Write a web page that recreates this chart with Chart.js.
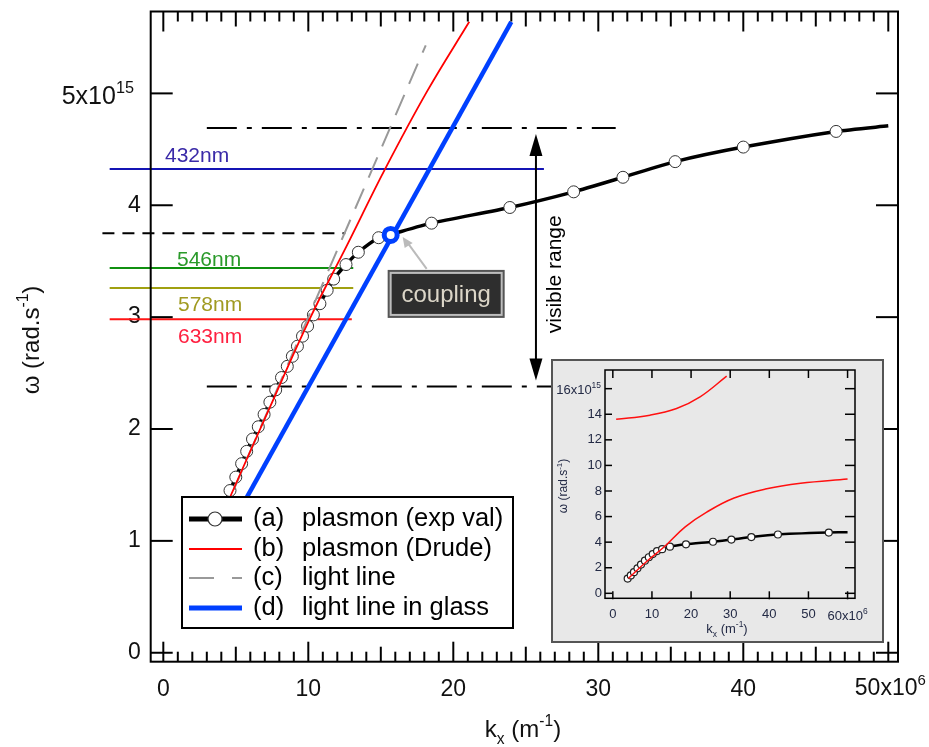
<!DOCTYPE html>
<html>
<head>
<meta charset="utf-8">
<script src="https://cdn.jsdelivr.net/npm/chart.js@4.4.0/dist/chart.umd.min.js"></script>
<style>
  body { margin: 0; background: #fff; }
  #wrap { position: relative; width: 929px; height: 747px; }
  #inset { position: absolute; left: 551px; top: 359px; }
</style>
</head>
<body>
<div id="wrap">
  <canvas id="main" width="929" height="747"></canvas>
  <canvas id="inset" width="333" height="284"></canvas>
</div>
<script>
// ---- data (k in 1e6 m^-1, omega in 1e15 rad/s) ----
const xTicks = [0, 10, 20, 30, 40, 50];
const yTicks = [0, 1, 2, 3, 4, 5];

// (a) plasmon, experimental values (last point = end of the line, no marker)
const kExp = [4.25, 4.6, 5.0, 5.4, 5.75, 6.15, 6.55, 6.95, 7.35, 7.75, 8.15, 8.55, 8.9, 9.25, 9.6, 9.95,
  10.35, 10.8, 11.3, 11.75, 12.6, 13.45, 14.85, 15.7, 18.5, 23.9, 28.3, 31.7, 35.3, 40.0, 46.4, 50.0];
const wExp = [1.34, 1.45, 1.57, 1.69, 1.80, 1.91, 2.02, 2.13, 2.24, 2.35, 2.46, 2.56, 2.65, 2.74, 2.83, 2.92,
  3.02, 3.12, 3.24, 3.34, 3.47, 3.58, 3.71, 3.74, 3.84, 3.98, 4.12, 4.25, 4.39, 4.52, 4.66, 4.71];

// (b) plasmon, Drude
const kDrude = [4.0, 4.6, 7.3, 10.1, 12.7, 15.3, 18.2, 21.1];
const wDrude = [1.2, 1.39, 2.18, 2.985, 3.65, 4.325, 5.02, 5.64];

// (c) light line
const kLight = [3.0, 18.1];
const wLight = [0.9, 5.43];

// (d) light line in glass
const kGlass = [4.3, 24.0];
const wGlass = [1.05, 5.64];

// coupling point
const kCoupling = [15.68];
const wCoupling = [3.735];

// laser lines
const lambdaNames = ['432nm', '546nm', '578nm', '633nm'];
const lambdaOmega = [4.325, 3.44, 3.26, 2.98];
const lambdaFrom = [-3.7, -3.7, -3.7, -3.7];
const lambdaTo = [26.25, 13.1, 13.1, 13.0];

// visible range limits (dash-dot) and the dashed level
const visibleOmega = [4.69, 2.38];
const visibleFrom = 3.0, visibleTo = 31.2;
const dashedOmega = 3.75;
const dashedFrom = -4.2, dashedTo = 12.55;

// inset
const insetXTicks = [0, 10, 20, 30, 40, 50, 60];
const insetYTicks = [0, 2, 4, 6, 8, 10, 12, 14, 16];
const kInUpper = [0.85, 9.5, 16.3, 22.3, 29.1];
const wInUpper = [13.6, 13.93, 14.45, 15.36, 16.98];
const kInLower = [4.0, 8.5, 13.0, 18.5, 24.0, 31.0, 39.0, 48.0, 60.0];
const wInLower = [1.17, 2.45, 3.6, 5.2, 6.35, 7.45, 8.15, 8.6, 8.93];
const kInExp = [3.8, 4.6, 5.4, 6.3, 7.2, 8.2, 9.2, 10.2, 11.3, 12.6, 14.6, 18.7, 25.6, 30.3, 35.4, 42.2, 55.2, 60.0];
const wInExp = [1.15, 1.4, 1.65, 1.95, 2.25, 2.55, 2.82, 3.07, 3.3, 3.45, 3.65, 3.83, 4.03, 4.2, 4.4, 4.6, 4.75, 4.78];

// ---- helpers ----
const FONT = '"Liberation Sans", Arial, Helvetica, sans-serif';
const pts = (xs, ys) => xs.map((x, i) => ({ x: x, y: ys[i] }));

function rich(ctx, parts, x, y, align, size, color) {
  let w = 0;
  parts.forEach(function (p) {
    ctx.font = (p[1] ? size * 0.65 : size) + 'px ' + FONT;
    w += ctx.measureText(p[0]).width;
  });
  let cx = align === 'center' ? x - w / 2 : align === 'right' ? x - w : x;
  ctx.fillStyle = color;
  ctx.textAlign = 'left';
  ctx.textBaseline = 'alphabetic';
  parts.forEach(function (p) {
    ctx.font = (p[1] ? size * 0.65 : size) + 'px ' + FONT;
    const dy = p[1] === 'sup' ? -size * 0.45 : p[1] === 'sub' ? size * 0.28 : 0;
    ctx.fillText(p[0], cx, y + dy);
    cx += ctx.measureText(p[0]).width;
  });
}

function seg(ctx, x1, y1, x2, y2) {
  ctx.beginPath(); ctx.moveTo(x1, y1); ctx.lineTo(x2, y2); ctx.stroke();
}

// no extra label padding, so the plot frame lands where the reference has it
function noPad(s) { s.paddingTop = 0; s.paddingBottom = 0; s.paddingLeft = 0; s.paddingRight = 0; }

// ---- main chart ----
const lambdaColors = ['#1414b4', '#109010', '#a0a010', '#ff1414'];
const lambdaTextColors = ['#3a2aa8', '#2a9a2a', '#a09a20', '#ff2040'];
const lambdaTextDy = [-6.6, -2.3, 22.7, 23.7];
const lambdaTextX = [165, 177, 178, 178];

const datasets = [];
lambdaNames.forEach(function (n, i) {
  datasets.push({
    data: pts([lambdaFrom[i], lambdaTo[i]], [lambdaOmega[i], lambdaOmega[i]]),
    showLine: true, borderColor: lambdaColors[i], borderWidth: 2, pointRadius: 0, clip: false, order: 10
  });
});
visibleOmega.forEach(function (w) {
  datasets.push({
    data: pts([visibleFrom, visibleTo], [w, w]),
    showLine: true, borderColor: '#000', borderWidth: 2, borderDash: [30, 10, 5, 10], pointRadius: 0, clip: false, order: 10
  });
});
datasets.push({
  data: pts([dashedFrom, dashedTo], [dashedOmega, dashedOmega]),
  showLine: true, borderColor: '#000', borderWidth: 2, borderDash: [12, 8], pointRadius: 0, clip: false, order: 10
});
datasets.push({
  label: 'plasmon (exp val)',
  data: pts(kExp, wExp),
  showLine: true, borderColor: '#000', borderWidth: 3.5, tension: 0.2,
  pointRadius: kExp.map(function (_, i) { return i === kExp.length - 1 ? 0 : 6; }),
  pointBackgroundColor: '#fff', pointBorderColor: '#333', pointBorderWidth: 1, order: 5
});
datasets.push({
  label: 'light line',
  data: pts(kLight, wLight),
  showLine: true, borderColor: '#999', borderWidth: 2, borderDash: [22, 12], pointRadius: 0, order: 4
});
datasets.push({
  label: 'plasmon (Drude)',
  data: pts(kDrude, wDrude),
  showLine: true, borderColor: '#ff0000', borderWidth: 1.8, tension: 0.4, pointRadius: 0, order: 3
});
datasets.push({
  label: 'light line in glass',
  data: pts(kGlass, wGlass),
  showLine: true, borderColor: '#0040ff', borderWidth: 4.5, pointRadius: 0, order: 2
});
datasets.push({
  label: 'coupling',
  data: pts(kCoupling, wCoupling),
  showLine: false, pointRadius: 6.5, pointBorderWidth: 5, pointBorderColor: '#0040ff',
  pointBackgroundColor: '#fff', order: 1
});

const mainDecor = {
  id: 'mainDecor',
  afterDatasetsDraw: function (chart) {
    const ctx = chart.ctx, a = chart.chartArea, x = chart.scales.x, y = chart.scales.y;
    ctx.save();
    ctx.lineCap = 'butt';
    // frame and inside ticks
    ctx.strokeStyle = '#000'; ctx.lineWidth = 2;
    ctx.strokeRect(a.left, a.top, a.right - a.left, a.bottom - a.top);
    for (let v = 0; v <= 50; v++) {
      const px = x.getPixelForValue(v);
      const len = v % 10 === 0 ? 20 : v % 5 === 0 ? 15 : 10;
      seg(ctx, px, a.bottom, px, a.bottom - len);
      seg(ctx, px, a.top, px, a.top + len);
    }
    yTicks.forEach(function (v) {
      const py = y.getPixelForValue(v);
      seg(ctx, a.left, py, a.left + 22, py);
      seg(ctx, a.right, py, a.right - 22, py);
    });

    // laser line labels
    lambdaNames.forEach(function (n, i) {
      ctx.font = '21px ' + FONT;
      ctx.fillStyle = lambdaTextColors[i];
      ctx.textAlign = 'left'; ctx.textBaseline = 'alphabetic';
      ctx.fillText(n, lambdaTextX[i], y.getPixelForValue(lambdaOmega[i]) + lambdaTextDy[i]);
    });

    // visible range arrow
    const ax = x.getPixelForValue(25.7);
    const yTop = y.getPixelForValue(visibleOmega[0]) + 6;
    const yBot = y.getPixelForValue(visibleOmega[1]) - 6;
    ctx.strokeStyle = '#000'; ctx.fillStyle = '#000'; ctx.lineWidth = 2;
    seg(ctx, ax, yTop + 10, ax, yBot - 10);
    ctx.beginPath(); ctx.moveTo(ax, yTop); ctx.lineTo(ax - 6.5, yTop + 22); ctx.lineTo(ax + 6.5, yTop + 22); ctx.closePath(); ctx.fill();
    ctx.beginPath(); ctx.moveTo(ax, yBot); ctx.lineTo(ax - 6.5, yBot - 22); ctx.lineTo(ax + 6.5, yBot - 22); ctx.closePath(); ctx.fill();
    ctx.save();
    ctx.translate(ax + 25.5, (yTop + yBot) / 2 + 17);
    ctx.rotate(-Math.PI / 2);
    ctx.font = '21px ' + FONT; ctx.textAlign = 'center'; ctx.textBaseline = 'alphabetic';
    ctx.fillText('visible range', 0, 0);
    ctx.restore();

    // coupling label and pointer
    const cx = x.getPixelForValue(kCoupling[0]), cy = y.getPixelForValue(wCoupling[0]);
    ctx.strokeStyle = '#bbb'; ctx.fillStyle = '#bbb'; ctx.lineWidth = 2;
    seg(ctx, cx + 36, cy + 34, cx + 17, cy + 8);
    ctx.beginPath(); ctx.moveTo(cx + 12, cy + 2); ctx.lineTo(cx + 22, cy + 8); ctx.lineTo(cx + 14, cy + 13); ctx.closePath(); ctx.fill();
    const bx = cx - 3, by = cy + 35, bw = 117, bh = 48;
    ctx.fillStyle = '#555'; ctx.fillRect(bx, by, bw, bh);
    ctx.fillStyle = '#bdbdbd'; ctx.fillRect(bx + 2, by + 2, bw - 4, bh - 4);
    ctx.fillStyle = '#2e2e2e'; ctx.fillRect(bx + 4, by + 4, bw - 8, bh - 8);
    ctx.font = '24px ' + FONT; ctx.fillStyle = '#dcd6c8'; ctx.textAlign = 'center'; ctx.textBaseline = 'middle';
    ctx.fillText('coupling', bx + bw / 2, by + bh / 2 + 1);

    // legend
    const lx = 182, ly = 497, lw = 331, lh = 131;
    ctx.fillStyle = '#fff'; ctx.fillRect(lx, ly, lw, lh);
    ctx.strokeStyle = '#000'; ctx.lineWidth = 2; ctx.strokeRect(lx, ly, lw, lh);
    const rows = [
      ['(a)', 'plasmon (exp val)'], ['(b)', 'plasmon (Drude)'], ['(c)', 'light line'], ['(d)', 'light line in glass']
    ];
    const rowY = [519, 549, 578, 608];
    ctx.setLineDash([]);
    // (a)
    ctx.strokeStyle = '#000'; ctx.lineWidth = 5; seg(ctx, 189, rowY[0], 242, rowY[0]);
    ctx.beginPath(); ctx.arc(215, rowY[0], 7, 0, Math.PI * 2); ctx.fillStyle = '#fff'; ctx.fill();
    ctx.lineWidth = 1.2; ctx.strokeStyle = '#333'; ctx.stroke();
    // (b)
    ctx.strokeStyle = '#ff0000'; ctx.lineWidth = 2; seg(ctx, 189, rowY[1], 242, rowY[1]);
    // (c)
    ctx.strokeStyle = '#999'; ctx.lineWidth = 2; ctx.setLineDash([25, 18]); seg(ctx, 189, rowY[2], 242, rowY[2]); ctx.setLineDash([]);
    // (d)
    ctx.strokeStyle = '#0040ff'; ctx.lineWidth = 5; seg(ctx, 189, rowY[3], 242, rowY[3]);
    ctx.font = '25.5px ' + FONT; ctx.fillStyle = '#000'; ctx.textAlign = 'left'; ctx.textBaseline = 'middle';
    rows.forEach(function (r, i) {
      ctx.fillText(r[0], 253, rowY[i]);
      ctx.fillText(r[1], 302, rowY[i]);
    });
    ctx.restore();
  },
  afterDraw: function (chart) {
    const ctx = chart.ctx, x = chart.scales.x, y = chart.scales.y;
    ctx.save();
    rich(ctx, [['5x10', ''], ['15', 'sup']], 134, y.getPixelForValue(5) + 10.5, 'right', 25, '#111');
    rich(ctx, [['50x10', ''], ['6', 'sup']], x.getPixelForValue(50) + 2, 695, 'center', 23, '#111');
    rich(ctx, [['k', ''], ['x', 'sub'], [' (m', ''], ['-1', 'sup'], [')', '']], 523, 737, 'center', 24, '#111');
    ctx.translate(39, 340);
    ctx.rotate(-Math.PI / 2);
    rich(ctx, [['\u03c9 (rad.s', ''], ['-1', 'sup'], [')', '']], 0, 0, 'center', 24, '#111');
    ctx.restore();
  }
};

new Chart(document.getElementById('main'), {
  type: 'scatter',
  data: { datasets: datasets },
  options: {
    responsive: false, animation: false, devicePixelRatio: 1,
    layout: { padding: { left: 0, top: 10.7, right: 31, bottom: 0 } },
    plugins: { legend: { display: false }, tooltip: { enabled: false } },
    scales: {
      x: {
        type: 'linear', min: -0.87, max: 50.67,
        grid: { display: false, drawTicks: false }, border: { display: false },
        afterBuildTicks: function (s) { s.ticks = xTicks.map(function (v) { return { value: v }; }); },
        afterFit: function (s) { s.height = 85.3; noPad(s); },
        ticks: {
          padding: 14, color: '#111', font: { family: FONT, size: 23 }, maxRotation: 0,
          callback: function (v) { return v === 50 ? '' : String(v); }
        }
      },
      y: {
        type: 'linear', min: -0.08, max: 5.732,
        grid: { display: false, drawTicks: false }, border: { display: false },
        afterBuildTicks: function (s) { s.ticks = yTicks.map(function (v) { return { value: v }; }); },
        afterFit: function (s) { s.width = 150.7; noPad(s); },
        ticks: {
          padding: 10, color: '#111', font: { family: FONT, size: 23 },
          callback: function (v) { return v === 5 ? '' : String(v); }
        }
      }
    }
  },
  plugins: [mainDecor]
});

// ---- inset chart ----
const insetDecor = {
  id: 'insetDecor',
  beforeDraw: function (chart) {
    const ctx = chart.ctx;
    ctx.save();
    ctx.fillStyle = '#e8e8e8';
    ctx.fillRect(0, 0, chart.width, chart.height);
    ctx.strokeStyle = '#555'; ctx.lineWidth = 2;
    ctx.strokeRect(1, 1, chart.width - 2, chart.height - 2);
    ctx.restore();
  },
  afterDatasetsDraw: function (chart) {
    const ctx = chart.ctx, a = chart.chartArea, x = chart.scales.x, y = chart.scales.y;
    ctx.save();
    ctx.strokeStyle = '#000'; ctx.lineWidth = 1.5;
    ctx.strokeRect(a.left, a.top, a.right - a.left, a.bottom - a.top);
    insetXTicks.forEach(function (v) {
      const px = x.getPixelForValue(v);
      seg(ctx, px, a.bottom + 1, px, a.bottom - 7);
      seg(ctx, px, a.top, px, a.top + 8);
    });
    insetYTicks.forEach(function (v) {
      const py = y.getPixelForValue(v);
      seg(ctx, a.left, py, a.left + 7, py);
      seg(ctx, a.right, py, a.right - 10, py);
    });
    ctx.restore();
  },
  afterDraw: function (chart) {
    const ctx = chart.ctx, x = chart.scales.x, y = chart.scales.y;
    ctx.save();
    const col = '#232a45';
    rich(ctx, [['16x10', ''], ['15', 'sup']], 50, y.getPixelForValue(16) + 5, 'right', 13, col);
    rich(ctx, [['60x10', ''], ['6', 'sup']], x.getPixelForValue(60), 261, 'center', 13, col);
    rich(ctx, [['k', ''], ['x', 'sub'], [' (m', ''], ['-1', 'sup'], [')', '']], 176, 274, 'center', 13, col);
    ctx.translate(16, 127);
    ctx.rotate(-Math.PI / 2);
    rich(ctx, [['\u03c9 (rad.s', ''], ['-1', 'sup'], [')', '']], 0, 0, 'center', 12, col);
    ctx.restore();
  }
};

new Chart(document.getElementById('inset'), {
  type: 'scatter',
  data: {
    datasets: [
      { data: pts(kInUpper, wInUpper), showLine: true, borderColor: '#ff1010', borderWidth: 1.5, tension: 0.4, pointRadius: 0, order: 2 },
      { data: pts(kInLower, wInLower), showLine: true, borderColor: '#ff1010', borderWidth: 1.5, tension: 0.4, pointRadius: 0, order: 1 },
      {
        data: pts(kInExp, wInExp), showLine: true, borderColor: '#000', borderWidth: 2.5, tension: 0.2,
        pointRadius: kInExp.map(function (_, i) { return i === kInExp.length - 1 ? 0 : 3.5; }),
        pointBackgroundColor: '#fff', pointBorderColor: '#222', pointBorderWidth: 1.2, order: 3
      }
    ]
  },
  options: {
    responsive: false, animation: false, devicePixelRatio: 1,
    layout: { padding: { left: 0, top: 11, right: 29, bottom: 0 } },
    plugins: { legend: { display: false }, tooltip: { enabled: false } },
    scales: {
      x: {
        type: 'linear', min: -2.0, max: 61.9,
        grid: { display: false, drawTicks: false }, border: { display: false },
        afterBuildTicks: function (s) { s.ticks = insetXTicks.map(function (v) { return { value: v }; }); },
        afterFit: function (s) { s.height = 44.7; noPad(s); },
        ticks: {
          padding: 8, color: '#232a45', font: { family: FONT, size: 13 }, maxRotation: 0,
          callback: function (v) { return v === 60 ? '' : String(v); }
        }
      },
      y: {
        type: 'linear', min: -0.39, max: 17.46,
        grid: { display: false, drawTicks: false }, border: { display: false },
        afterBuildTicks: function (s) { s.ticks = insetYTicks.map(function (v) { return { value: v }; }); },
        afterFit: function (s) { s.width = 54; noPad(s); },
        ticks: {
          padding: 3, color: '#232a45', font: { family: FONT, size: 13 },
          callback: function (v) { return v === 16 ? '' : String(v); }
        }
      }
    }
  },
  plugins: [insetDecor]
});
</script>
</body>
</html>
